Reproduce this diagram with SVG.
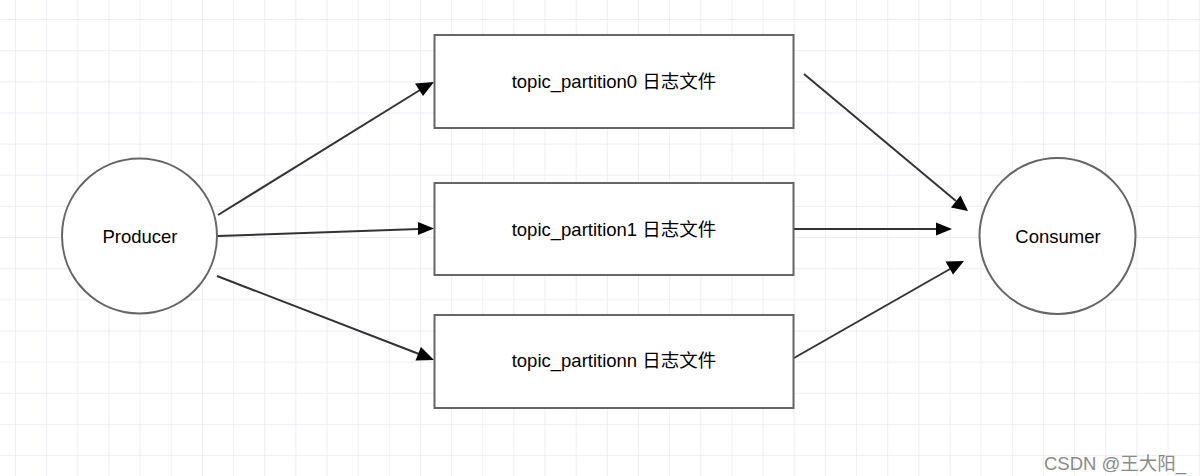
<svg xmlns="http://www.w3.org/2000/svg" width="1200" height="476" viewBox="0 0 1200 476">
  <defs>
    <pattern id="grid" x="15" y="19" width="31.15" height="31.15" patternUnits="userSpaceOnUse">
      <path d="M0 0 H31.15 M0 0 V31.15" fill="none" stroke="#e8e8f2" stroke-width="1.5"/>
    </pattern>
    <style>
      .node { fill: #fff; stroke: #666; stroke-width: 2; }
      .label { font-family: "Liberation Sans", Arial, "Noto Sans CJK SC", sans-serif; font-size: 18.5px; fill: #000; text-anchor: middle; dominant-baseline: central; }
      .edge { stroke: #333; stroke-width: 2; fill: none; }
      .head { fill: #000; }
      .wm { font-family: "Liberation Sans", Arial, "Noto Sans CJK SC", sans-serif; font-size: 18.5px; fill: #8a8a8a; }
    </style>
  </defs>
  <rect x="0" y="0" width="1200" height="476" fill="#fff"/>
  <rect x="0" y="0" width="1200" height="476" fill="url(#grid)"/>

  <g id="connectors">
    <line class="edge" x1="218" y1="215" x2="420" y2="90"/>
    <polygon class="head" points="434,82 415,83.5 423,96"/>
    <line class="edge" x1="218" y1="236" x2="419" y2="229"/>
    <polygon class="head" points="434,228.5 418,222 418,235"/>
    <line class="edge" x1="217" y1="276" x2="419" y2="354"/>
    <polygon class="head" points="434,360 421,347 415.5,360.5"/>
    <line class="edge" x1="804" y1="74" x2="956" y2="201"/>
    <polygon class="head" points="968,211 951,207.5 960.5,195.5"/>
    <line class="edge" x1="794" y1="229" x2="937" y2="229"/>
    <polygon class="head" points="952,229 936,222.5 936,235.5"/>
    <line class="edge" x1="794" y1="358" x2="950" y2="269"/>
    <polygon class="head" points="964,261 945.5,261.5 953,274.5"/>
  </g>

  <g id="producer">
    <circle class="node" cx="139.5" cy="236" r="77.5"/>
    <text class="label" x="140" y="236">Producer</text>
  </g>
  <g id="consumer">
    <circle class="node" cx="1057.5" cy="236" r="78"/>
    <text class="label" x="1058" y="236">Consumer</text>
  </g>
  <g id="partition0">
    <rect class="node" x="434.5" y="35" width="359" height="93"/>
    <text class="label" x="614" y="81">topic_partition0 日志文件</text>
  </g>
  <g id="partition1">
    <rect class="node" x="434.5" y="183" width="359" height="92"/>
    <text class="label" x="614" y="229">topic_partition1 日志文件</text>
  </g>
  <g id="partitionn">
    <rect class="node" x="434.5" y="315" width="359" height="93"/>
    <text class="label" x="614" y="360">topic_partitionn 日志文件</text>
  </g>

  <text class="wm" x="1044" y="470">CSDN @王大阳_</text>
</svg>
